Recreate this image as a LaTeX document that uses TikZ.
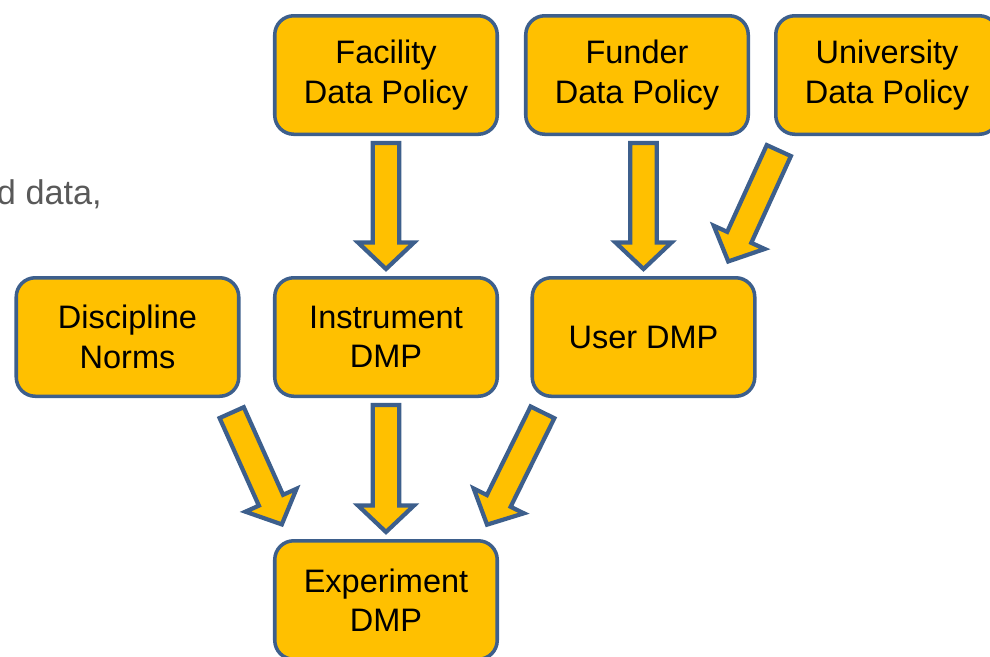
\documentclass[tikz,border=0pt]{standalone}
\usepackage{fontspec}
\setmainfont{Liberation Sans}
\usepackage{tikz}
\usetikzlibrary{calc}

\definecolor{dmpfill}{HTML}{FFC000}
\definecolor{dmpline}{HTML}{3D5F8C}
\definecolor{slidetext}{HTML}{595959}

% block arrow between two points, #1 = gap at both ends
\newcommand{\dmparrow}[3][0.14cm]{%
  \coordinate (dmp-t) at ($(#2)!#1!(#3)$);
  \coordinate (dmp-h) at ($(#3)!#1!(#2)$);
  \coordinate (dmp-n) at ($(dmp-h)!0.53cm!(dmp-t)$);
  \filldraw[blockarrow] ($(dmp-t)!0.265cm!90:(dmp-h)$) -- ($(dmp-n)!0.265cm!90:(dmp-h)$)
    -- ($(dmp-n)!0.56cm!90:(dmp-h)$) -- (dmp-h) -- ($(dmp-n)!0.56cm!-90:(dmp-h)$)
    -- ($(dmp-n)!0.265cm!-90:(dmp-h)$) -- ($(dmp-t)!0.265cm!-90:(dmp-h)$) -- cycle;
}

\begin{document}
\begin{tikzpicture}[
    dmpbox/.style={draw=dmpline, fill=dmpfill, line width=2pt, rounded corners=0.38cm,
      minimum width=4.45cm, minimum height=2.37cm, align=center,
      font=\fontsize{18.5}{22.5}\selectfont},
    blockarrow/.style={draw=dmpline, fill=dmpfill, line width=2.4pt, line join=miter}
  ]
    \useasboundingbox (0,0) rectangle (19.8,-13.12);
    \node (frag) [anchor=base east, text=slidetext, font=\fontsize{19.5}{22}\selectfont] at (2.16,-4.08) {d data,};

    \node (fac) [dmpbox] at (7.72,-1.5) {Facility\\Data Policy};
    \node (fun) [dmpbox] at (12.74,-1.5) {Funder\\Data Policy};
    \node (uni) [dmpbox] at (17.74,-1.5) {University\\Data Policy};
    \node (dis) [dmpbox] at (2.55,-6.74) {Discipline\\Norms};
    \node (ins) [dmpbox] at (7.72,-6.74) {Instrument\\DMP};
    \node (usr) [dmpbox] at (12.87,-6.74) {User DMP};
    \node (exp) [dmpbox] at (7.72,-12.0) {Experiment\\DMP};

    \dmparrow{fac.south}{ins.north}
    \dmparrow{fun.south -| usr.north}{usr.north}
    \dmparrow[0.32cm]{uni.211}{usr.38}
    \dmparrow[0.32cm]{dis.-32}{exp.148}
    \dmparrow{ins.south}{exp.north}
    \dmparrow[0.32cm]{usr.213}{exp.33}
  \end{tikzpicture}
\end{document}
